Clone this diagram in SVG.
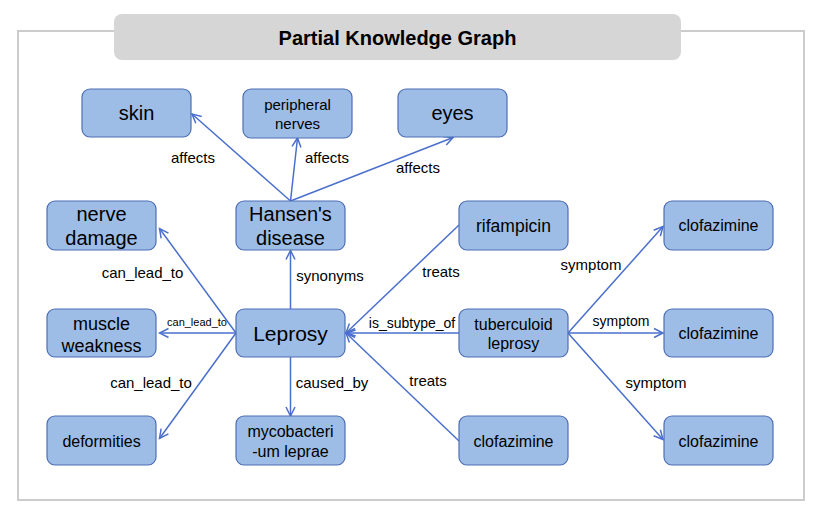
<svg xmlns="http://www.w3.org/2000/svg" width="820" height="517" viewBox="0 0 820 517">
<style>
.node rect{fill:#9dbde6;stroke:#4f6fb5;stroke-width:1.2}
text{font-family:"Liberation Sans",Arial,Helvetica,sans-serif;fill:#000;text-anchor:middle}
.edge{stroke:#4a6fcc;stroke-width:1.5;fill:none;marker-end:url(#arr)}
.lbl{font-size:15px}
</style>
<defs>
<marker id="arr" viewBox="0 0 12 12" refX="10.5" refY="6" markerWidth="12" markerHeight="12" markerUnits="userSpaceOnUse" orient="auto">
<path d="M1.5,1.5 L10.5,6 L1.5,10.5" fill="none" stroke="#4a6fcc" stroke-width="1.5"/>
</marker>
</defs>
<rect x="18" y="31" width="786" height="469" fill="#fff" stroke="#cccccc" stroke-width="2"/>
<g id="title">
<rect x="114" y="14" width="567" height="46" rx="8" fill="#d6d6d6"/>
<text x="397.5" y="45" style="font-size:20px;font-weight:bold">Partial Knowledge Graph</text>
</g>
<g id="connectors">
<line class="edge" x1="290.5" y1="201" x2="192" y2="114"/>
<line class="edge" x1="290.5" y1="201" x2="297.5" y2="138"/>
<line class="edge" x1="290.5" y1="201" x2="453" y2="137.5"/>
<line class="edge" x1="290.5" y1="309" x2="290.5" y2="250.5"/>
<line class="edge" x1="236" y1="333" x2="159.5" y2="228.5"/>
<line class="edge" x1="236" y1="333" x2="159.5" y2="333"/>
<line class="edge" x1="236" y1="333" x2="159.5" y2="438.5"/>
<line class="edge" x1="290.5" y1="357" x2="290.5" y2="416"/>
<line class="edge" x1="459" y1="225" x2="346" y2="333"/>
<line class="edge" x1="459" y1="333" x2="346" y2="333"/>
<line class="edge" x1="459" y1="441" x2="346" y2="333"/>
<line class="edge" x1="568" y1="333" x2="663" y2="226.5"/>
<line class="edge" x1="568" y1="333" x2="663" y2="333"/>
<line class="edge" x1="568" y1="333" x2="663" y2="439.5"/>
<text class="lbl" x="193" y="163">affects</text>
<text class="lbl" x="327" y="163">affects</text>
<text class="lbl" x="418" y="173">affects</text>
<text class="lbl" x="330" y="281">synonyms</text>
<text class="lbl" x="142.5" y="278">can_lead_to</text>
<text x="197" y="326" style="font-size:11px">can_lead_to</text>
<text class="lbl" x="151" y="388">can_lead_to</text>
<text class="lbl" x="332" y="388">caused_by</text>
<text class="lbl" x="441" y="277">treats</text>
<text x="412" y="328" style="font-size:14px">is_subtype_of</text>
<text class="lbl" x="428" y="386">treats</text>
<text class="lbl" x="591" y="270">symptom</text>
<text x="621" y="326" style="font-size:14px">symptom</text>
<text class="lbl" x="656" y="388">symptom</text>
</g>
<g id="skin" class="node"><rect x="82" y="89" width="109" height="48" rx="8"/><text x="136.5" y="120" style="font-size:20px">skin</text></g>
<g id="peripheral-nerves" class="node"><rect x="243" y="89" width="109" height="49" rx="8"/><text x="297.5" y="110" style="font-size:15px">peripheral</text><text x="297.5" y="129" style="font-size:15px">nerves</text></g>
<g id="eyes" class="node"><rect x="398" y="89" width="109" height="48" rx="8"/><text x="452.5" y="120" style="font-size:20px">eyes</text></g>
<g id="hansens-disease" class="node"><rect x="236" y="201" width="109" height="49" rx="8"/><text x="290.5" y="221" style="font-size:20px">Hansen's</text><text x="290.5" y="245" style="font-size:20px">disease</text></g>
<g id="nerve-damage" class="node"><rect x="47" y="201" width="109" height="49" rx="8"/><text x="101.5" y="221" style="font-size:20px">nerve</text><text x="101.5" y="245" style="font-size:20px">damage</text></g>
<g id="rifampicin" class="node"><rect x="459" y="201" width="109" height="49" rx="8"/><text x="513.5" y="232" style="font-size:17.5px">rifampicin</text></g>
<g id="clofazimine-1" class="node"><rect x="664" y="201" width="109" height="49" rx="8"/><text x="718.5" y="231" style="font-size:16px">clofazimine</text></g>
<g id="muscle-weakness" class="node"><rect x="47" y="309" width="109" height="48" rx="8"/><text x="101.5" y="330" style="font-size:18px">muscle</text><text x="101.5" y="352" style="font-size:18px">weakness</text></g>
<g id="leprosy" class="node"><rect x="236" y="309" width="109" height="48" rx="8"/><text x="290.5" y="341" style="font-size:21px">Leprosy</text></g>
<g id="tuberculoid-leprosy" class="node"><rect x="459" y="309" width="109" height="48" rx="8"/><text x="513.5" y="330" style="font-size:16px">tuberculoid</text><text x="513.5" y="349" style="font-size:16px">leprosy</text></g>
<g id="clofazimine-2" class="node"><rect x="664" y="309" width="109" height="48" rx="8"/><text x="718.5" y="339" style="font-size:16px">clofazimine</text></g>
<g id="deformities" class="node"><rect x="47" y="416" width="109" height="49" rx="8"/><text x="101.5" y="447" style="font-size:16px">deformities</text></g>
<g id="mycobacterium-leprae" class="node"><rect x="236" y="416" width="109" height="49" rx="8"/><text x="290.5" y="437" style="font-size:16px">mycobacteri</text><text x="290.5" y="457" style="font-size:16px">-um leprae</text></g>
<g id="clofazimine-3" class="node"><rect x="459" y="416" width="109" height="49" rx="8"/><text x="513.5" y="447" style="font-size:16px">clofazimine</text></g>
<g id="clofazimine-4" class="node"><rect x="664" y="416" width="109" height="49" rx="8"/><text x="718.5" y="447" style="font-size:16px">clofazimine</text></g>
</svg>
